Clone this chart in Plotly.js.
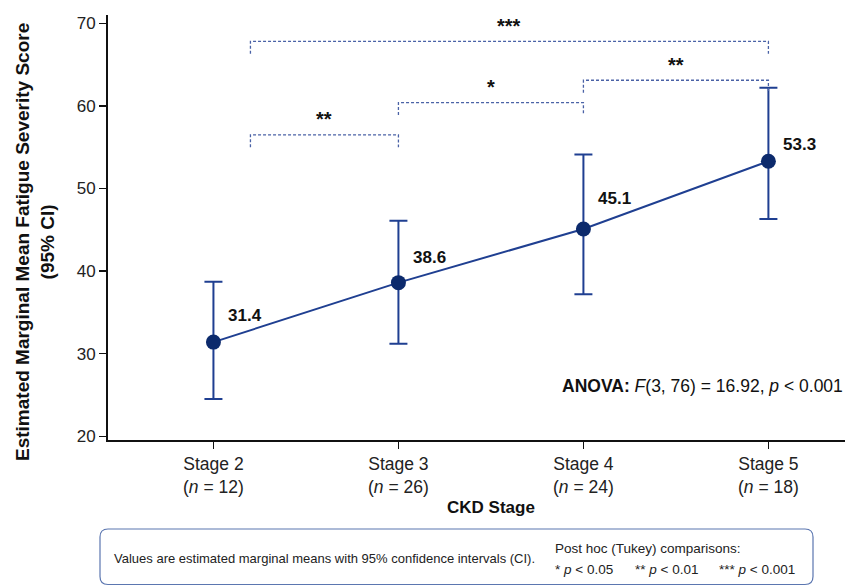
<!DOCTYPE html>
<html><head><meta charset="utf-8">
<script src="https://cdn.plot.ly/plotly-3.0.1.min.js"></script>
<style>html,body{margin:0;padding:0;overflow:hidden;background:#fff;width:845px;height:586px}</style>
</head><body><div id="chart"></div>
<script>
// ---- data ----
const stages = ['Stage 2', 'Stage 3', 'Stage 4', 'Stage 5'];
const nCounts = [12, 26, 24, 18];
const means = [31.4, 38.6, 45.1, 53.3];
const ciLower = [24.5, 31.2, 37.2, 46.3];
const ciUpper = [38.7, 46.1, 54.1, 62.2];
const compFrom = [0, 1, 2, 0];
const compTo = [1, 2, 3, 3];
const compStars = ['**', '*', '**', '***'];

// ---- layout config (not data) ----
const bracketY = [56.5, 60.4, 63.1, 67.8];
const bracketStartOffset = [0.2, 0, 0, 0.2];
const legDrop = 1.5;
const starGap = 1.9;
const labelYShift = [27, 25, 30, 17];
const FONT = 'Arial, "Liberation Sans", sans-serif';
const lineColor = '#1f3f91';
const markerColor = '#0c2a6c';
const bracketColor = '#4a62a6';

const xIdx = stages.map((_, i) => i);
const traces = [{
  x: xIdx, y: means, type: 'scatter', mode: 'lines+markers',
  line: {color: lineColor, width: 2},
  marker: {color: markerColor, size: 15},
  error_y: {type: 'data', symmetric: false,
    array: means.map((m, i) => ciUpper[i] - m),
    arrayminus: means.map((m, i) => m - ciLower[i]),
    color: lineColor, thickness: 2, width: 9},
  hoverinfo: 'skip', cliponaxis: false
}];

const shapes = [];
const annotations = [];
compFrom.forEach((a, k) => {
  const x0 = a + bracketStartOffset[k], x1 = compTo[k], y = bracketY[k];
  shapes.push({type: 'path', xref: 'x', yref: 'y',
    path: `M ${x0} ${y - legDrop} L ${x0} ${y} L ${x1} ${y} L ${x1} ${y - legDrop}`,
    line: {color: bracketColor, width: 1.3, dash: '3px,2px'}});
  annotations.push({x: (x0 + x1) / 2, y: y + starGap, xref: 'x', yref: 'y',
    text: '<b>' + compStars[k] + '</b>', showarrow: false,
    font: {family: FONT, size: 20, color: '#111'}});
});
means.forEach((m, i) => {
  annotations.push({x: i, y: m, xref: 'x', yref: 'y', text: '<b>' + m.toFixed(1) + '</b>',
    showarrow: false, xanchor: 'left', yanchor: 'middle', xshift: 13, yshift: labelYShift[i],
    font: {family: FONT, size: 17, color: '#111'}});
});

// pixel -> paper helpers (plot area: x 108..872, y 15..440)
const px = v => (v - 108) / 764;
const py = v => (440 - v) / 425;

annotations.push(
  {xref: 'paper', yref: 'paper', x: px(35), y: py(242), textangle: -90,
   text: '<b>Estimated Marginal Mean Fatigue Severity Score<br>(95% CI)</b>',
   showarrow: false, xanchor: 'center', yanchor: 'middle',
   font: {family: FONT, size: 19, color: '#111'}},
  {xref: 'paper', yref: 'paper', x: px(491), y: py(508), text: '<b>CKD Stage</b>',
   showarrow: false, xanchor: 'center', yanchor: 'middle',
   font: {family: FONT, size: 17, color: '#111'}},
  {xref: 'paper', yref: 'paper', x: px(845), y: py(386),
   text: '<b>ANOVA:</b> <i>F</i>(3, 76) = 16.92, <i>p</i> &lt; 0.001',
   showarrow: false, xanchor: 'right', yanchor: 'middle',
   font: {family: FONT, size: 17.5, color: '#111'}},
  {xref: 'paper', yref: 'paper', x: px(112), y: py(558),
   text: 'Values are estimated marginal means with 95% confidence intervals (CI).',
   showarrow: false, xanchor: 'left', yanchor: 'middle',
   font: {family: FONT, size: 13, color: '#222'}},
  {xref: 'paper', yref: 'paper', x: px(553), y: py(548),
   text: 'Post hoc (Tukey) comparisons:',
   showarrow: false, xanchor: 'left', yanchor: 'middle',
   font: {family: FONT, size: 13.5, color: '#222'}},
  {xref: 'paper', yref: 'paper', x: px(553), y: py(569),
   text: '* <i>p</i> &lt; 0.05', showarrow: false, xanchor: 'left', yanchor: 'middle',
   font: {family: FONT, size: 13.5, color: '#222'}},
  {xref: 'paper', yref: 'paper', x: px(633), y: py(569),
   text: '** <i>p</i> &lt; 0.01', showarrow: false, xanchor: 'left', yanchor: 'middle',
   font: {family: FONT, size: 13.5, color: '#222'}},
  {xref: 'paper', yref: 'paper', x: px(717), y: py(569),
   text: '*** <i>p</i> &lt; 0.001', showarrow: false, xanchor: 'left', yanchor: 'middle',
   font: {family: FONT, size: 13.5, color: '#222'}}
);

// rounded note box
const bx0 = px(100), bx1 = px(813), by0 = py(529), by1 = py(584.5);
const rx = 8 / 764, ry = 8 / 425;
shapes.push({type: 'path', xref: 'paper', yref: 'paper',
  path: `M ${bx0 + rx} ${by0} L ${bx1 - rx} ${by0} Q ${bx1} ${by0} ${bx1} ${by0 - ry} ` +
        `L ${bx1} ${by1 + ry} Q ${bx1} ${by1} ${bx1 - rx} ${by1} L ${bx0 + rx} ${by1} ` +
        `Q ${bx0} ${by1} ${bx0} ${by1 + ry} L ${bx0} ${by0 - ry} Q ${bx0} ${by0} ${bx0 + rx} ${by0} Z`,
  line: {color: '#5b76b0', width: 1.2}, fillcolor: 'rgba(0,0,0,0)'});

const layout = {
  width: 900, height: 586,
  margin: {l: 108, r: 28, t: 15, b: 146},
  paper_bgcolor: '#fff', plot_bgcolor: '#fff',
  showlegend: false,
  font: {family: FONT, color: '#222'},
  xaxis: {range: [-0.57, 3.56], tickvals: xIdx,
    ticktext: stages.map((s, i) => s + '<br>(<i>n</i> = ' + nCounts[i] + ')'),
    showgrid: false, zeroline: false, showline: true, linecolor: '#111', linewidth: 2,
    ticks: 'outside', ticklen: 7, tickwidth: 1.5, tickcolor: '#111',
    tickfont: {family: FONT, size: 17.5, color: '#222'}},
  yaxis: {range: [19.55, 71], tickvals: [20, 30, 40, 50, 60, 70],
    showgrid: false, zeroline: false, showline: true, linecolor: '#111', linewidth: 2,
    ticks: 'outside', ticklen: 7, tickwidth: 1.5, tickcolor: '#111',
    tickfont: {family: FONT, size: 17, color: '#222'}},
  shapes: shapes, annotations: annotations
};
Plotly.newPlot('chart', traces, layout, {staticPlot: true, displayModeBar: false});
</script></body></html>
